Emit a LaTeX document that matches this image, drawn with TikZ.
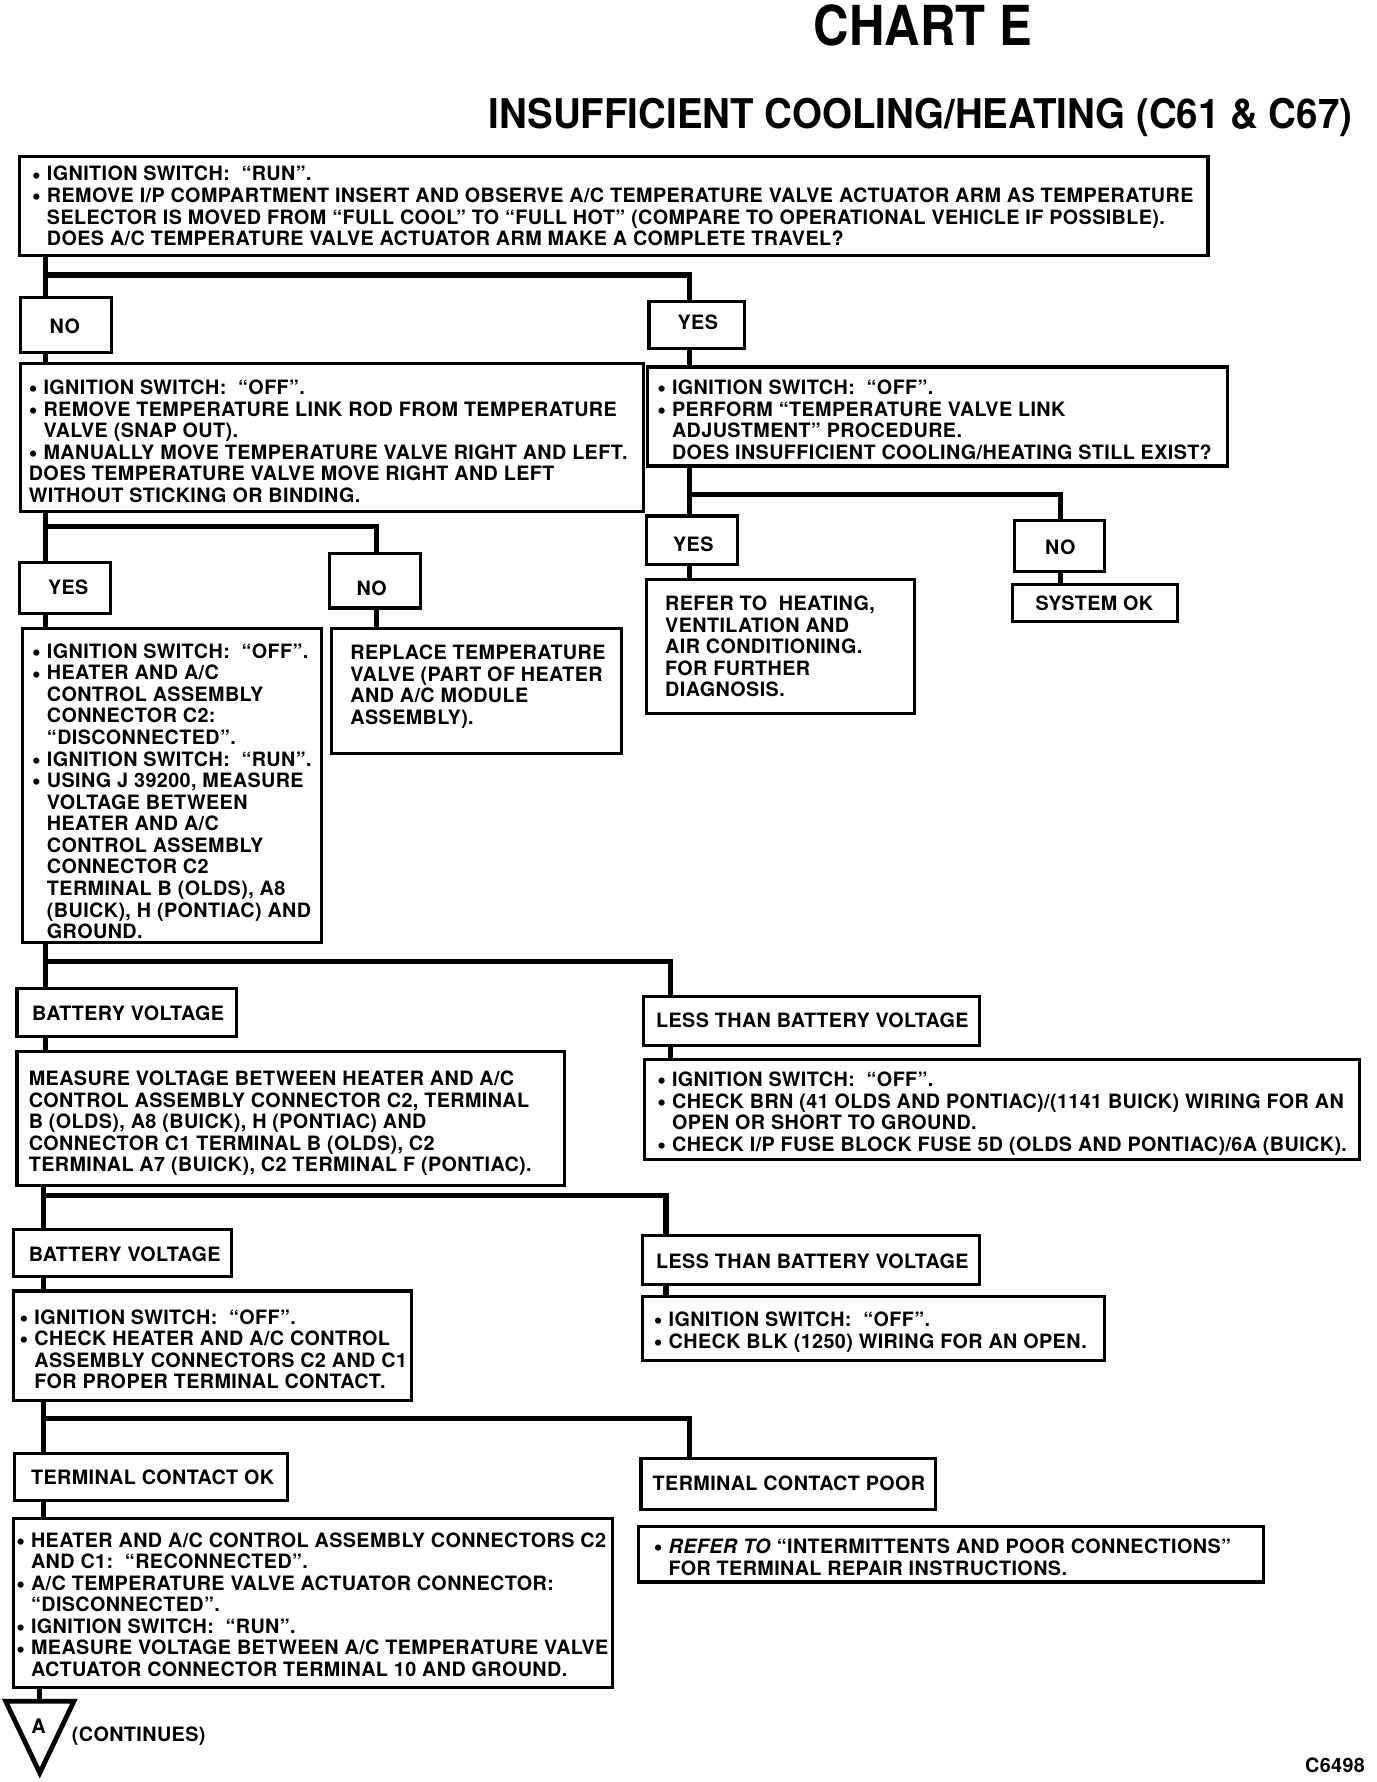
\documentclass[tikz,border=0pt]{standalone}
\usepackage{fontspec}
\setmainfont{TeX Gyre Heros}
\newfontfamily\bodyfam[LetterSpace=2.0]{TeX Gyre Heros}
\usetikzlibrary{fit}
\newcommand\bodyfont{\fontsize{9.9}{10.8}\selectfont\bodyfam\bfseries}
\newcommand\bu{\makebox[0.26cm][l]{\raisebox{-0.2ex}{\scalebox{1.25}{\textbullet}}}}
\newcommand\ii{\hspace*{0.26cm}}
\begin{document}
\begin{tikzpicture}[x=0.02cm,y=-0.02cm,
  box/.style={draw, line width=1.6pt, inner sep=0pt},
  conn/.style={line width=2.6pt, line join=miter},
  txt/.style={anchor=north west, inner sep=0pt, align=left, font=\bodyfont},
  lbl/.style={anchor=west, inner sep=0pt, font=\bodyfont},
  clbl/.style={anchor=center, inner sep=0pt, font=\bodyfont}]
\useasboundingbox (0,0) rectangle (1211,1568);

% titles
\node[anchor=base, inner sep=0pt, font=\fontsize{27.6}{30}\selectfont\bfseries] (title) at (812,40) {\scalebox{0.89}[1]{CHART E}};
\node[anchor=base, inner sep=0pt, font=\fontsize{20.5}{24}\selectfont\bfseries] (subtitle) at (810,113) {\scalebox{0.94}[1]{INSUFFICIENT COOLING/HEATING (C61 \& C67)}};

% junction coordinates
\coordinate (j1) at (40,242);   \coordinate (j1r) at (607,242);
\coordinate (j2) at (40,463);   \coordinate (j2r) at (331,463);
\coordinate (j3) at (607,435);  \coordinate (j3r) at (933,435);
\coordinate (j4) at (40,846);   \coordinate (j4r) at (590,846);
\coordinate (j5) at (38,1052);  \coordinate (j5r) at (586,1052);
\coordinate (j6) at (38,1248);  \coordinate (j6r) at (607,1248);
\coordinate (ta) at (5,1497); \coordinate (tb) at (65,1497); \coordinate (tc) at (35,1560);
\coordinate (j7) at (35,1497);

% boxes
\node[box, fit={(17,138) (1063,225)}] (b1) {};
\node[box, fit={(18,262) (98,310)}] (no1) {};
\node[box, fit={(571,265) (655,307)}] (yes1) {};
\node[box, fit={(18,320) (566,450)}] (b2) {};
\node[box, fit={(570,323) (1080,410)}] (b3) {};
\node[box, fit={(17,495) (97,540)}] (yes2) {};
\node[box, fit={(290,487) (370,535)}] (no2) {};
\node[box, fit={(20,553) (283,829)}] (b4) {};
\node[box, fit={(292,553) (547,663)}] (b5) {};
\node[box, fit={(569,454) (649,497)}] (yes3) {};
\node[box, fit={(893,458) (972,503)}] (no3) {};
\node[box, fit={(569,510) (805,628)}] (b6) {};
\node[box, fit={(891,514) (1036,547)}] (b7) {};
\node[box, fit={(15,870) (208,912)}] (bv1) {};
\node[box, fit={(566,877) (862,920)}] (lt1) {};
\node[box, fit={(15,925) (497,1043)}] (b8) {};
\node[box, fit={(567,932) (1196,1020)}] (b9) {};
\node[box, fit={(12,1082) (204,1123)}] (bv2) {};
\node[box, fit={(565,1087) (862,1130)}] (lt2) {};
\node[box, fit={(12,1136) (362,1232)}] (b10) {};
\node[box, fit={(565,1141) (972,1197)}] (b11) {};
\node[box, fit={(13,1279) (253,1320)}] (tok) {};
\node[box, fit={(564,1283) (823,1328)}] (tpoor) {};
\node[box, fit={(12,1336) (539,1485)}] (b12) {};
\node[box, fit={(562,1343) (1112,1392)}] (b13) {};

% connectors
\draw[conn] (b1.south -| j1) -- (j1) -- (j1r) -- (yes1.north -| j1r);
\draw[conn] (j1) -- (no1.north -| j1);
\draw[conn] (no1.south -| j1) -- (b2.north -| j1);
\draw[conn] (yes1.south -| j1r) -- (b3.north -| j1r);
\draw[conn] (b2.south -| j2) -- (j2) -- (j2r) -- (no2.north -| j2r);
\draw[conn] (j2) -- (yes2.north -| j2);
\draw[conn] (yes2.south -| j2) -- (b4.north -| j2);
\draw[conn] (no2.south -| j2r) -- (b5.north -| j2r);
\draw[conn] (b3.south -| j3) -- (j3) -- (j3r) -- (no3.north -| j3r);
\draw[conn] (j3) -- (yes3.north -| j3);
\draw[conn] (yes3.south -| j3) -- (b6.north -| j3);
\draw[conn] (no3.south -| j3r) -- (b7.north -| j3r);
\draw[conn] (b4.south -| j4) -- (j4) -- (j4r) -- (lt1.north -| j4r);
\draw[conn] (j4) -- (bv1.north -| j4);
\draw[conn] (bv1.south -| j4) -- (b8.north -| j4);
\draw[conn] (lt1.south -| j4r) -- (b9.north -| j4r);
\draw[conn] (b8.south -| j5) -- (j5) -- (j5r) -- (lt2.north -| j5r);
\draw[conn] (j5) -- (bv2.north -| j5);
\draw[conn] (bv2.south -| j5) -- (b10.north -| j5);
\draw[conn] (lt2.south -| j5r) -- (b11.north -| j5r);
\draw[conn] (b10.south -| j6) -- (j6) -- (j6r) -- (tpoor.north -| j6r);
\draw[conn] (j6) -- (tok.north -| j6);
\draw[conn] (tok.south -| j6) -- (b12.north -| j6);
\draw[conn] (b12.south -| j7) -- (j7);
\draw[line width=2.4pt, line join=miter] (ta) -- (tb) -- (tc) -- cycle;

% texts
\node[txt] (b1t) at (28,146) {\bu IGNITION SWITCH:\ \ “RUN”.\\
\bu REMOVE I/P COMPARTMENT INSERT AND OBSERVE A/C TEMPERATURE VALVE ACTUATOR ARM AS TEMPERATURE\\
\ii SELECTOR IS MOVED FROM “FULL COOL” TO “FULL HOT” (COMPARE TO OPERATIONAL VEHICLE IF POSSIBLE).\\
\ii DOES A/C TEMPERATURE VALVE ACTUATOR ARM MAKE A COMPLETE TRAVEL?};
\node[clbl] (no1t) at (57,287) {NO};
\node[clbl] (yes1t) at (614,284) {YES};
\node[txt] (b2t) at (25,334) {\bu IGNITION SWITCH:\ \ “OFF”.\\
\bu REMOVE TEMPERATURE LINK ROD FROM TEMPERATURE\\
\ii VALVE (SNAP OUT).\\
\bu MANUALLY MOVE TEMPERATURE VALVE RIGHT AND LEFT.\\
DOES TEMPERATURE VALVE MOVE RIGHT AND LEFT\\
WITHOUT STICKING OR BINDING.};
\node[txt] (b3t) at (578,334) {\bu IGNITION SWITCH:\ \ “OFF”.\\
\bu PERFORM “TEMPERATURE VALVE LINK\\
\ii ADJUSTMENT” PROCEDURE.\\
\ii DOES INSUFFICIENT COOLING/HEATING STILL EXIST?};
\node[clbl] (yes2t) at (60,517) {YES};
\node[clbl] (no2t) at (327,518) {NO};
\node[clbl] (yes3t) at (610,479) {YES};
\node[clbl] (no3t) at (933,482) {NO};
\node[txt] (b4t) at (28,566) {\bu IGNITION SWITCH:\ \ “OFF”.\\
\bu HEATER AND A/C\\
\ii CONTROL ASSEMBLY\\
\ii CONNECTOR C2:\\
\ii “DISCONNECTED”.\\
\bu IGNITION SWITCH:\ \ “RUN”.\\
\bu USING J 39200, MEASURE\\
\ii VOLTAGE BETWEEN\\
\ii HEATER AND A/C\\
\ii CONTROL ASSEMBLY\\
\ii CONNECTOR C2\\
\ii TERMINAL B (OLDS), A8\\
\ii (BUICK), H (PONTIAC) AND\\
\ii GROUND.};
\node[txt] (b5t) at (308,567) {REPLACE TEMPERATURE\\
VALVE (PART OF HEATER\\
AND A/C MODULE\\
ASSEMBLY).};
\node[txt] (b6t) at (585,524) {REFER TO\ \ HEATING,\\
VENTILATION AND\\
AIR CONDITIONING.\\
FOR FURTHER\\
DIAGNOSIS.};
\node[clbl] (b7t) at (963,531) {SYSTEM OK};
\node[lbl] (bv1t) at (28,892) {BATTERY VOLTAGE};
\node[lbl] (lt1t) at (577,898) {LESS THAN BATTERY VOLTAGE};
\node[txt] (b8t) at (25,942) {MEASURE VOLTAGE BETWEEN HEATER AND A/C\\
CONTROL ASSEMBLY CONNECTOR C2, TERMINAL\\
B (OLDS), A8 (BUICK), H (PONTIAC) AND\\
CONNECTOR C1 TERMINAL B (OLDS), C2\\
TERMINAL A7 (BUICK), C2 TERMINAL F (PONTIAC).};
\node[txt] (b9t) at (578,943) {\bu IGNITION SWITCH:\ \ “OFF”.\\
\bu CHECK BRN (41 OLDS AND PONTIAC)/(1141 BUICK) WIRING FOR AN\\
\ii OPEN OR SHORT TO GROUND.\\
\bu CHECK I/P FUSE BLOCK FUSE 5D (OLDS AND PONTIAC)/6A (BUICK).};
\node[lbl] (bv2t) at (25,1104) {BATTERY VOLTAGE};
\node[lbl] (lt2t) at (577,1110) {LESS THAN BATTERY VOLTAGE};
\node[txt] (b10t) at (17,1152) {\bu IGNITION SWITCH:\ \ “OFF”.\\
\bu CHECK HEATER AND A/C CONTROL\\
\ii ASSEMBLY CONNECTORS C2 AND C1\\
\ii FOR PROPER TERMINAL CONTACT.};
\node[txt] (b11t) at (575,1154) {\bu IGNITION SWITCH:\ \ “OFF”.\\
\bu CHECK BLK (1250) WIRING FOR AN OPEN.};
\node[lbl] (tokt) at (27,1300) {TERMINAL CONTACT OK};
\node[lbl] (tpoort) at (574,1305) {TERMINAL CONTACT POOR};
\node[txt] (b12t) at (14,1348) {\bu HEATER AND A/C CONTROL ASSEMBLY CONNECTORS C2\\
\ii AND C1:\ \ “RECONNECTED”.\\
\bu A/C TEMPERATURE VALVE ACTUATOR CONNECTOR:\\
\ii “DISCONNECTED”.\\
\bu IGNITION SWITCH:\ \ “RUN”.\\
\bu MEASURE VOLTAGE BETWEEN A/C TEMPERATURE VALVE\\
\ii ACTUATOR CONNECTOR TERMINAL 10 AND GROUND.};
\node[txt] (b13t) at (575,1354) {\bu \textit{REFER TO} “INTERMITTENTS AND POOR CONNECTIONS”\\
\ii FOR TERMINAL REPAIR INSTRUCTIONS.};
\node[clbl, font=\fontsize{10}{11}\selectfont\bfseries] (tA) at (34,1519) {A};
\node[lbl] (cont) at (63,1528) {(CONTINUES)};
\node[lbl] (code) at (1148,1553) {C6498};
\end{tikzpicture}
\end{document}
